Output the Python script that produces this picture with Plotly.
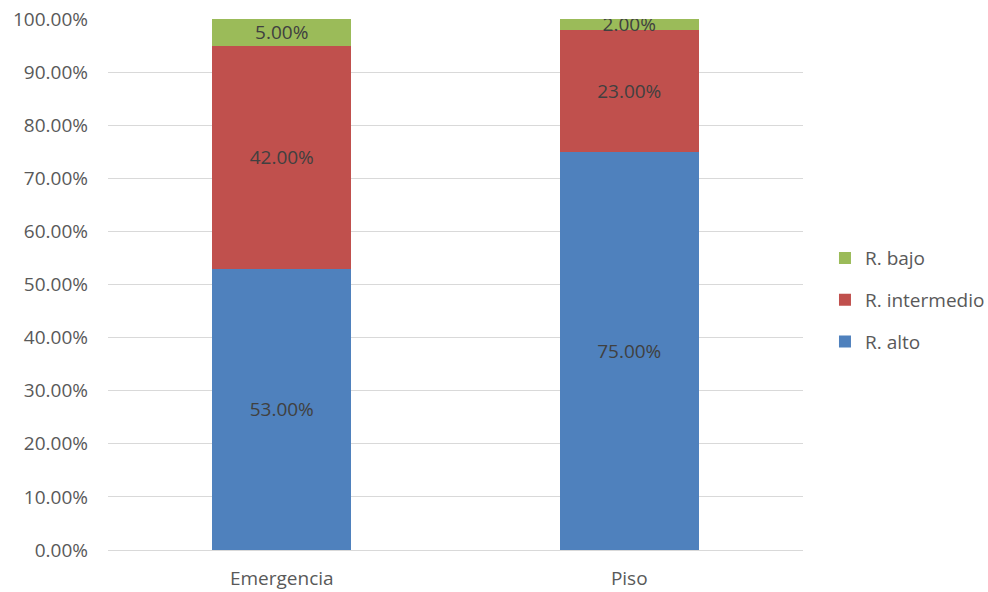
import plotly.graph_objects as go

categories = ["Emergencia", "Piso"]
alto = [0.53, 0.75]
intermedio = [0.42, 0.23]
bajo = [0.05, 0.02]
series_names = ["R. alto", "R. intermedio", "R. bajo"]
legend_ranks = [3, 2, 1]
colors = ["#4F81BD", "#C0504D", "#9BBB59"]
tick_vals = [i / 10 for i in range(11)]
tick_text = [f"{v*100:.2f}%" for v in tick_vals]

FONT = "Open Sans, Liberation Sans, sans-serif"
FS = 19

fig = go.Figure()
for name, vals, col, rk in zip(series_names, [alto, intermedio, bajo], colors, legend_ranks):
    fig.add_trace(go.Bar(
        x=categories, y=vals, name=name, marker_color=col, marker_line_width=0,
        text=[f"{v*100:.2f}%" for v in vals], textposition="inside",
        insidetextanchor="middle", textangle=0,
        textfont=dict(family=FONT, size=FS, color="#404040"),
        legendgroup=name, legendrank=rk,
    ))

fig.update_layout(
    barmode="stack", bargap=0.6,
    width=988, height=592,
    margin=dict(l=108, r=185, t=19, b=42),
    paper_bgcolor="white", plot_bgcolor="white",
    font=dict(family=FONT, size=FS, color="#595959"),
    uniformtext=dict(minsize=FS, mode="show"),
    legend=dict(xref="container", yref="container", x=0.835, y=0.493,
                xanchor="left", yanchor="middle",
                traceorder="grouped", tracegroupgap=14,
                font=dict(family=FONT, size=FS, color="#595959"),
                itemwidth=30),
    showlegend=True,
)
fig.update_yaxes(range=[0, 1], tickvals=tick_vals, ticktext=tick_text,
                 showgrid=True, gridcolor="#D9D9D9", gridwidth=1,
                 zeroline=False, showline=False, ticks="", automargin=False,
                 ticklabelstandoff=19,
                 tickfont=dict(family=FONT, size=FS, color="#595959"))
fig.update_xaxes(showline=True, linecolor="#D9D9D9", linewidth=1,
                 ticks="", automargin=False, ticklabelstandoff=11,
                 tickfont=dict(family=FONT, size=FS, color="#595959"))

fig.write_html("out.html")
